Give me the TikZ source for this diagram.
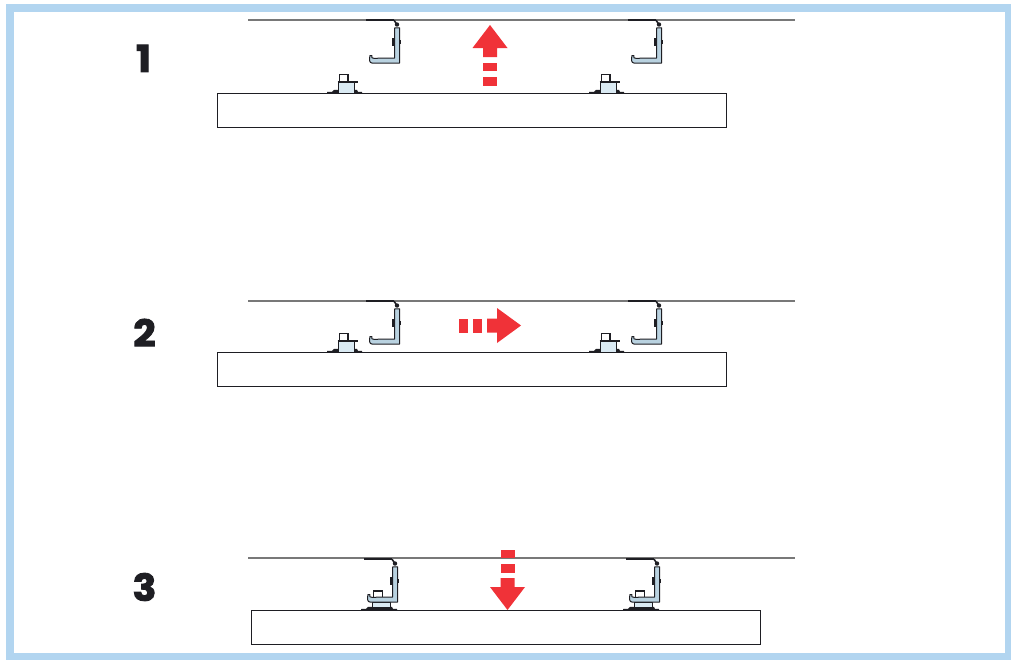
\documentclass[tikz,border=0pt]{standalone}
\usepackage{fontspec}
\newfontfamily\numfont[FakeBold=2.5,FakeStretch=1.06]{Poppins Bold}
\definecolor{frameblue}{RGB}{178,213,240}
\definecolor{arrowred}{RGB}{240,50,56}
\definecolor{inkk}{RGB}{30,30,35}
\definecolor{railgrey}{RGB}{120,120,120}
\definecolor{steel}{RGB}{185,210,224}
\definecolor{steelpale}{RGB}{218,234,243}
\tikzset{
  x=1pt,y=-1pt,
  numlabel/.style={inner sep=0pt,font=\numfont\fontsize{37}{37}\selectfont,text=inkk},
  panel/.style={draw=inkk,line width=0.9pt,fill=white},
  rail/.style={draw=railgrey,line width=1.2pt},
  redfill/.style={fill=arrowred,draw=none},
  steelpart/.style={fill=steel,draw=inkk,line width=1pt,line join=round},
  clipsquare/.style={fill=white,draw=inkk,line width=1.2pt},
  hookbracket/.pic={
    \fill[inkk] (-29,-1.2) rectangle (-1,1.3);
    \draw[inkk,line width=1.6pt] (-1,0.2) -- (2.6,5.5);
    \fill[inkk] (2,4.5) circle (2.2);
    \draw[steelpart] (-0.3,7.8) -- (4.7,7.8) -- (4.7,43) -- (-23,43)
      .. controls (-25.5,43) and (-26,40) .. (-25,35.5) -- (-23.2,35.5)
      .. controls (-23.6,38) and (-23,38.3) .. (-21,38.3) -- (-0.3,38) -- cycle;
    \fill[inkk] (-3.2,17.5) rectangle (0.2,25.7);
    \fill[inkk] (4.6,19.5) rectangle (6,24);
  },
  loweredclip/.pic={
    \fill[inkk] (-20,0.5) -- (-20,-1) -- (-15,-1.2) -- (-13,-3.2) -- (11,-3.2) -- (12,-1.2) -- (16,-1) -- (16,0.5) -- cycle;
    \draw[fill=steelpale,draw=inkk,line width=0.8pt] (-9,-8) rectangle (9,-2.5);
    \draw[clipsquare] (-7.7,-19) rectangle (1.3,-12);
  },
  clip/.pic={
    \fill[inkk] (-20,0.5) -- (-20,-1) -- (-15,-1.2) -- (-13,-3.2) -- (10,-3.2) -- (11,-1.2) -- (15,-1) -- (15,0.5) -- cycle;
    \draw[clipsquare] (-7.3,-18.3) rectangle (1,-11);
    \draw[fill=steelpale,draw=inkk,line width=0.9pt] (-9,-11) rectangle (7.3,0);
    \draw[inkk,line width=1.2pt] (-9.5,-11) -- (11,-11);
  }
}
\begin{document}
\begin{tikzpicture}
\useasboundingbox (0,0) rectangle (1011,659);
\fill[white] (0,0) rectangle (1011,659);
\draw[frameblue,line width=8pt] (10,8) rectangle (1009,657);
\node[numlabel] (n1) at (143.5,58.4) {1};
\node[numlabel] (n2) at (144.5,332.7) {2};
\node[numlabel] (n3) at (144.5,587) {3};

% row 1
\draw[rail] (248,20) -- (795,20);
\pic at (395,20) {hookbracket};
\pic at (657,20) {hookbracket};
\node[panel,minimum width=509.5pt,minimum height=34pt,inner sep=0pt] (p1) at (472,110.5) {};
\pic at (347,93) {clip};
\pic at (609,93) {clip};
\path[redfill] (490,25) -- (507.5,48) -- (497,48) -- (497,57) -- (483,57) -- (483,48) -- (472.5,48) -- cycle;
\path[redfill] (483,62.5) rectangle (497,71);
\path[redfill] (483,77) rectangle (497,85.5);

% row 2
\draw[rail] (248,301) -- (795,301);
\pic at (395,301) {hookbracket};
\pic at (657,301) {hookbracket};
\node[panel,minimum width=509.5pt,minimum height=34pt,inner sep=0pt] (p2) at (472,369) {};
\pic at (347,352) {clip};
\pic at (609,352) {clip};
\path[redfill] (521,325.5) -- (497,308) -- (497,318.5) -- (487,318.5) -- (487,332.5) -- (497,332.5) -- (497,343) -- cycle;
\path[redfill] (459,318.5) rectangle (468,332.5);
\path[redfill] (473,318.5) rectangle (482,332.5);

% row 3
\draw[rail] (248,558) -- (795,558);
\node[panel,minimum width=509.5pt,minimum height=34pt,inner sep=0pt] (p3) at (506,627) {};
\pic at (381,610) {loweredclip};
\pic at (643,610) {loweredclip};
\pic at (393,559) {hookbracket};
\pic at (655,559) {hookbracket};
\path[redfill] (507.5,610) -- (525,587) -- (514.5,587) -- (514.5,578) -- (500.5,578) -- (500.5,587) -- (490,587) -- cycle;
\path[redfill] (500.5,549.5) rectangle (514.5,558);
\path[redfill] (500.5,564) rectangle (514.5,572.5);
\end{tikzpicture}
\end{document}
